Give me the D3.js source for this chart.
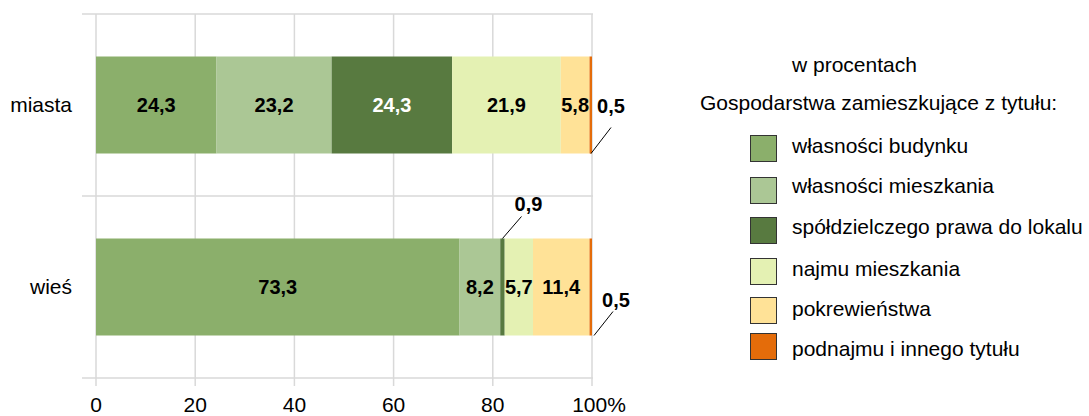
<!DOCTYPE html>
<html><head><meta charset="utf-8">
<script src="https://cdn.jsdelivr.net/npm/d3@7"></script>
<style>body{margin:0;background:#fff}svg{font-family:"Liberation Sans",Arial,sans-serif}</style>
</head><body><svg id="c" width="1089" height="416"></svg>
<script>
const categories = ["miasta", "wieś"];
const seriesNames = ["własności budynku","własności mieszkania","spółdzielczego prawa do lokalu","najmu mieszkania","pokrewieństwa","podnajmu i innego tytułu"];
const colors = ["#8BAF6B","#ABC795","#587A40","#E4F1B3","#FFE297","#E46C0A"];
const miasta = [24.3, 23.2, 24.3, 21.9, 5.8, 0.5];
const wies = [73.3, 8.2, 0.9, 5.7, 11.4, 0.5];
const values = [miasta, wies];
const xTicks = [0, 20, 40, 60, 80, 100];
const xTickLabels = ["0","20","40","60","80","100%"];

const svg = d3.select("#c");
const x = d3.scaleLinear().domain([0,100]).range([96,592]);
const y = d3.scaleBand().domain(categories).range([14,378]).paddingInner(0).paddingOuter(0);
const barH = 97;
const grid = "#d9d9d9";

svg.append("g").selectAll("line").data(xTicks).join("line")
  .attr("x1", d=>x(d)).attr("x2", d=>x(d)).attr("y1", 14).attr("y2", 386)
  .attr("stroke", grid).attr("stroke-width", 1.5);
svg.append("g").selectAll("line").data([14,196,378]).join("line")
  .attr("x1", 82).attr("x2", 593).attr("y1", d=>d).attr("y2", d=>d)
  .attr("stroke", grid).attr("stroke-width", 1.5);

svg.append("g").selectAll("text").data(xTicks).join("text")
  .attr("x", (d,i)=> x(d) + (i===5?7:0)).attr("y", 412).attr("text-anchor","middle")
  .attr("font-size", 21).attr("fill","#000").text((d,i)=>xTickLabels[i]);

svg.append("g").selectAll("text").data(categories).join("text")
  .attr("x", 72).attr("y", d=>y(d)+y.bandwidth()/2+7).attr("text-anchor","end")
  .attr("font-size", 21).attr("fill","#000").text(d=>d);

categories.forEach((cat, ci) => {
  const vals = values[ci];
  let acc = 0;
  const y0 = y(cat) + (y.bandwidth()-barH)/2;
  vals.forEach((v, si) => {
    const x0 = x(acc), x1 = x(acc+v);
    svg.append("rect").attr("x", x0).attr("y", y0).attr("width", x1-x0).attr("height", barH)
      .attr("fill", colors[si]);
    acc += v;
  });
});

function lbl(xp, yp, txt, fill){
  svg.append("text").attr("x", xp).attr("y", yp).attr("text-anchor", "middle")
    .attr("font-size", 20).attr("font-weight","bold").attr("fill", fill||"#000").text(txt);
}
const fmt = v => String(v).replace(".", ",");
categories.forEach((cat, ci) => {
  const vals = values[ci];
  let acc = 0;
  const yc = y(cat) + y.bandwidth()/2 + 7;
  const y0 = y(cat) + (y.bandwidth()-barH)/2;
  vals.forEach((v, si) => {
    const xc = x(acc + v/2);
    if (v >= 2) {
      lbl(xc, yc, fmt(v), si===2 ? "#fff" : "#000");
    } else {
      let sx, sy, lx, ly, tx, ty;
      if (ci===0) { sx = x(acc+v)-1; sy = y0+barH; lx = sx+20; ly = sy-26; tx = x(acc+v)+19; ty = yc+1; }
      else if (si===2) { sx = xc; sy = y0; lx = sx+19; ly = sy-22; tx = xc+26; ty = y0-28; }
      else { sx = x(acc+v)+2; sy = y0+barH; lx = sx+19; ly = sy-24; tx = x(acc+v)+24; ty = y0+barH-29; }
      svg.append("line").attr("x1", sx).attr("y1", sy).attr("x2", lx).attr("y2", ly)
        .attr("stroke","#000").attr("stroke-width",1);
      lbl(tx, ty, fmt(v), "#000");
    }
    acc += v;
  });
});

svg.append("text").attr("x", 792).attr("y", 72).attr("font-size", 21).attr("fill","#000").text("w procentach");
svg.append("text").attr("x", 700).attr("y", 110).attr("font-size", 21).attr("fill","#000").text("Gospodarstwa zamieszkujące z tytułu:");
const legY = [135, 177, 217, 258, 297, 333];
const legTextY = [153, 193, 234, 276, 316, 356];
seriesNames.forEach((n, i) => {
  svg.append("rect").attr("x", 750.5).attr("y", legY[i]+0.5).attr("width", 26).attr("height", 26)
    .attr("fill", colors[i]).attr("stroke", "#333").attr("stroke-width", 1);
  svg.append("text").attr("x", 792).attr("y", legTextY[i]).attr("font-size", 21).attr("fill","#000").text(n);
});
</script></body></html>
